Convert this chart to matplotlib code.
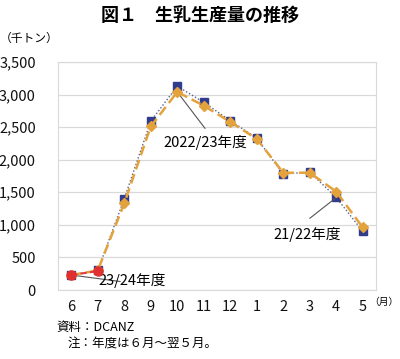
import matplotlib
matplotlib.use("Agg")
import matplotlib.pyplot as plt

plt.rcParams['font.family'] = ['Noto Sans CJK JP', 'DejaVu Sans']

months = ["6", "7", "8", "9", "10", "11", "12", "1", "2", "3", "4", "5"]
fy2122 = [230, 300, 1400, 2590, 3130, 2880, 2600, 2330, 1780, 1810, 1420, 900]
fy2223 = [230, 300, 1330, 2510, 3040, 2830, 2580, 2320, 1800, 1800, 1510, 960]
fy2324 = [230, 290]
yticks = [0, 500, 1000, 1500, 2000, 2500, 3000, 3500]

fig = plt.figure(figsize=(4.0, 3.59), dpi=100)
ax = fig.add_axes([58/400, 1-290/359, (376-58)/400, (290-62)/359])

x = list(range(len(months)))
ax.plot(x, fy2122, color="#5a5f8f", linestyle=(0, (1, 1.5)), linewidth=1.0,
        marker="s", markersize=6, markerfacecolor="#323c8c", markeredgecolor="#323c8c", zorder=3)
ax.plot(x, fy2223, color="#e3a23c", linestyle=(0, (4, 2)), linewidth=1.8,
        marker="D", markersize=5, markerfacecolor="#e3a23c", markeredgecolor="#e3a23c", zorder=4)
ax.plot(x[:len(fy2324)], fy2324, color="#e03a3a", linestyle=(0, (3, 1.5)), linewidth=1.5,
        marker="o", markersize=6.5, markerfacecolor="#e03030", markeredgecolor="#e03030", zorder=5)

ax.set_xlim(-0.5, len(months) - 0.5)
ax.set_ylim(0, 3500)
ax.set_yticks(yticks)
ax.set_yticklabels([f"{v:,}" for v in yticks])
ax.set_xticks(x)
ax.set_xticklabels(months)
ax.grid(axis="y", color="#d9d9d9", linewidth=0.9)
ax.set_axisbelow(True)
for s in ax.spines.values():
    s.set_color("#d9d9d9")
ax.tick_params(length=0, labelsize=10.5, colors="#111111")
ax.tick_params(axis="y", pad=16)
ax.tick_params(axis="x", pad=7)

line_kw = dict(arrowstyle="-", color="#555555", lw=0.8, shrinkA=0, shrinkB=0)
# 2022/23
ax.annotate("", xy=(4, fy2223[4]), xytext=(5.05, 2480), arrowprops=line_kw)
ax.text(5.05, 2270, "2022/23年度", fontsize=10.5, ha="center", va="center")
# 21/22
ax.annotate("", xy=(10, fy2122[10]), xytext=(9.0, 1100), arrowprops=line_kw)
ax.text(8.9, 850, "21/22年度", fontsize=10.5, ha="center", va="center")
# 23/24
ax.annotate("", xy=(0, fy2324[0]), xytext=(1.85, 130), arrowprops=line_kw)
ax.text(2.3, 150, "23/24年度", fontsize=10.5, ha="center", va="center")

fig.text(200/400, 1-15/359, "図１　生乳生産量の推移", ha="center", va="center",
         fontsize=13, fontweight="bold")
fig.text(0/400, 1-38/359, "（千トン）", ha="left", va="center", fontsize=8.5)
fig.text(398/400, 1-302/359, "（月）", ha="right", va="center", fontsize=7)
fig.text(56/400, 1-327/359, "資料：DCANZ", ha="left", va="center", fontsize=9)
fig.text(68/400, 1-344/359, "注：年度は６月～翌５月。", ha="left", va="center", fontsize=9)

fig.savefig("out.png", dpi=100)
